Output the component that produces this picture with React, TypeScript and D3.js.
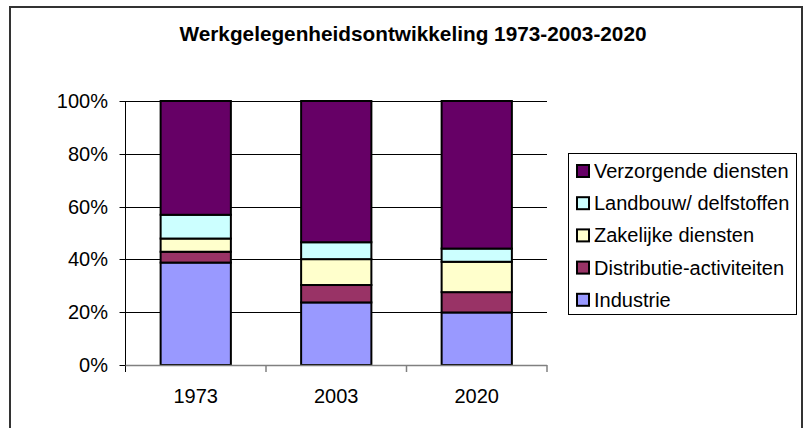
import React from 'react';
import * as d3 from 'd3';

const years = ['1973', '2003', '2020'];
const seriesNames = ['Industrie', 'Distributie-activiteiten', 'Zakelijke diensten', 'Landbouw/ delfstoffen', 'Verzorgende diensten'];
const industrie = [38.8, 23.7, 19.9];
const distributie = [4.1, 6.6, 7.7];
const zakelijke = [5.0, 9.8, 11.5];
const landbouw = [9.0, 6.4, 5.0];
const verzorgende = [43.1, 53.5, 55.9];
const colors = ['#9999ff', '#993366', '#ffffcc', '#ccffff', '#660066'];
const yTicks = [0, 20, 40, 60, 80, 100];

const font = "'Liberation Sans', Arial, sans-serif";

const App: React.FC = () => {
  const width = 803;
  const height = 428;
  const plot = { left: 125.5, right: 547, top: 101, bottom: 365 };

  const rows = years.map((y, i) => ({
    year: y,
    [seriesNames[0]]: industrie[i],
    [seriesNames[1]]: distributie[i],
    [seriesNames[2]]: zakelijke[i],
    [seriesNames[3]]: landbouw[i],
    [seriesNames[4]]: verzorgende[i],
  }));
  const stacked = d3.stack<any>().keys(seriesNames)(rows);

  const x = d3.scaleBand<string>()
    .domain(years)
    .range([plot.left, plot.right])
    .paddingInner(0.5)
    .paddingOuter(0.25);
  const y = d3.scaleLinear().domain([0, 100]).range([plot.bottom, plot.top]);
  const step = x.step();
  const color = d3.scaleOrdinal<string, string>().domain(seriesNames).range(colors);

  const legendNames = seriesNames.slice().reverse();

  return (
    <svg width={width} height={height} style={{ position: 'absolute', left: 0, top: 0, background: '#fff' }}>
      <rect x={10} y={7} width={792} height={440} fill="#fff" stroke="#333" strokeWidth={2} />
      <text x={413} y={41} textAnchor="middle" fontFamily={font} fontWeight="bold" fontSize={20.5}
        textLength={467} lengthAdjust="spacingAndGlyphs" fill="#000">
        Werkgelegenheidsontwikkeling 1973-2003-2020
      </text>

      {/* gridlines */}
      {yTicks.filter((t) => t > 0).map((t) => (
        <line key={t} x1={plot.left} x2={plot.right} y1={Math.round(y(t)) + 0.5} y2={Math.round(y(t)) + 0.5}
          stroke="#000" strokeWidth={1} />
      ))}

      {/* y axis */}
      <line x1={plot.left} x2={plot.left} y1={plot.top} y2={plot.bottom + 7} stroke="#000" strokeWidth={1} />
      {yTicks.map((t) => (
        <g key={t}>
          <line x1={plot.left - 6} x2={plot.left} y1={Math.round(y(t)) + 0.5} y2={Math.round(y(t)) + 0.5} stroke="#000" />
          <text x={108} y={y(t)} dy="0.35em" textAnchor="end" fontFamily={font} fontSize={20} fill="#000">
            {t}%
          </text>
        </g>
      ))}

      {/* bars */}
      {stacked.map((s) => (
        <g key={s.key}>
          {s.map((d, i) => (
            <rect key={i}
              x={(x(years[i]) as number)}
              y={y(d[1])}
              width={x.bandwidth()}
              height={y(d[0]) - y(d[1])}
              fill={color(s.key)}
              stroke="#000"
              strokeWidth={2} />
          ))}
        </g>
      ))}

      {/* x axis */}
      <line x1={plot.left} x2={plot.right} y1={plot.bottom + 0.5} y2={plot.bottom + 0.5} stroke="#808080" strokeWidth={1.5} />
      {years.map((yr, i) => (
        <line key={'t' + yr} x1={plot.left + step * (i + 1)} x2={plot.left + step * (i + 1)}
          y1={plot.bottom} y2={plot.bottom + 7} stroke="#808080" strokeWidth={1.5} />
      ))}
      {years.map((yr) => (
        <text key={yr} x={(x(yr) as number) + x.bandwidth() / 2} y={403} textAnchor="middle"
          fontFamily={font} fontSize={20} fill="#000">
          {yr}
        </text>
      ))}

      {/* legend */}
      <rect x={568.5} y={153.5} width={228} height={161} fill="#fff" stroke="#000" strokeWidth={1} />
      {legendNames.map((n, i) => (
        <g key={n} transform={`translate(577, ${171 + i * 32.2})`}>
          <rect x={0} y={-6} width={12} height={12} fill={color(n)} stroke="#000" strokeWidth={2} />
          <text x={17} y={0} dy="0.35em" fontFamily={font} fontSize={20} fill="#000">{n}</text>
        </g>
      ))}
    </svg>
  );
};

export default App;
